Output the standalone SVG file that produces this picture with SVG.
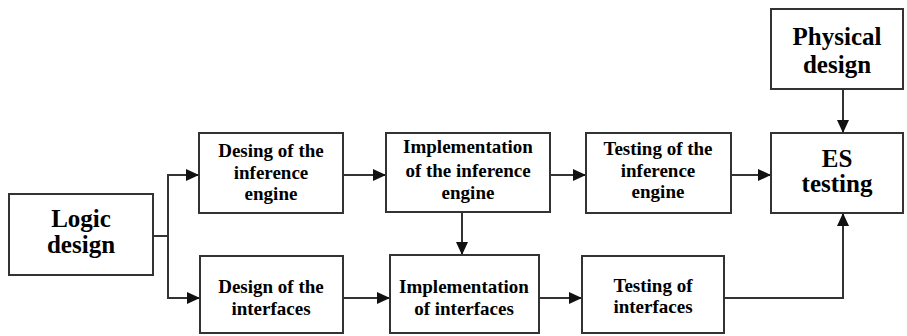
<svg xmlns="http://www.w3.org/2000/svg" width="907" height="336" viewBox="0 0 907 336">
<style>
.box{fill:#fff;stroke:#333;stroke-width:2}
.c{fill:none;stroke:#333;stroke-width:2}
</style>
<defs>
<marker id="arr" markerUnits="userSpaceOnUse" markerWidth="14" markerHeight="12" refX="13" refY="6" orient="auto">
<path d="M0,0 L13,6 L0,12 z" fill="#111"/>
</marker>
</defs>
<rect width="907" height="336" fill="#fff"/>
<g id="connectors">
<path class="c" d="M153,236 H168 V175 H199" marker-end="url(#arr)"/>
<path class="c" d="M168,236 V298 H200" marker-end="url(#arr)"/>
<path class="c" d="M343,175 H386" marker-end="url(#arr)"/>
<path class="c" d="M550,175 H586" marker-end="url(#arr)"/>
<path class="c" d="M731,175 H771" marker-end="url(#arr)"/>
<path class="c" d="M843,89 V133" marker-end="url(#arr)"/>
<path class="c" d="M462,212 V255" marker-end="url(#arr)"/>
<path class="c" d="M343,298 H390" marker-end="url(#arr)"/>
<path class="c" d="M539,298 H582" marker-end="url(#arr)"/>
<path class="c" d="M724,298 H843 V213" marker-end="url(#arr)"/>
</g>
<g id="logic">
<rect class="box" x="9" y="194" width="144" height="81"/>
<text font-family="Liberation Serif" font-weight="bold" font-size="25" text-anchor="middle" x="81" y="227">Logic</text>
<text font-family="Liberation Serif" font-weight="bold" font-size="25" text-anchor="middle" x="81" y="253">design</text>
</g>
<g id="design-engine">
<rect class="box" x="199" y="133" width="144" height="80"/>
<text font-family="Liberation Serif" font-weight="bold" font-size="19" text-anchor="middle" x="271" y="157">Desing of the</text>
<text font-family="Liberation Serif" font-weight="bold" font-size="19" text-anchor="middle" x="271" y="179">inference</text>
<text font-family="Liberation Serif" font-weight="bold" font-size="19" text-anchor="middle" x="271" y="200">engine</text>
</g>
<g id="impl-engine">
<rect class="box" x="386" y="133" width="164" height="79"/>
<text font-family="Liberation Serif" font-weight="bold" font-size="19" text-anchor="middle" x="468" y="153">Implementation</text>
<text font-family="Liberation Serif" font-weight="bold" font-size="19" text-anchor="middle" x="468" y="177">of the inference</text>
<text font-family="Liberation Serif" font-weight="bold" font-size="19" text-anchor="middle" x="468" y="199">engine</text>
</g>
<g id="test-engine">
<rect class="box" x="586" y="133" width="145" height="80"/>
<text font-family="Liberation Serif" font-weight="bold" font-size="19" text-anchor="middle" x="658" y="155">Testing of the</text>
<text font-family="Liberation Serif" font-weight="bold" font-size="19" text-anchor="middle" x="658" y="177">inference</text>
<text font-family="Liberation Serif" font-weight="bold" font-size="19" text-anchor="middle" x="658" y="198">engine</text>
</g>
<g id="physical">
<rect class="box" x="771" y="9" width="132" height="80"/>
<text font-family="Liberation Serif" font-weight="bold" font-size="25" text-anchor="middle" x="837" y="45">Physical</text>
<text font-family="Liberation Serif" font-weight="bold" font-size="25" text-anchor="middle" x="837" y="73">design</text>
</g>
<g id="es-testing">
<rect class="box" x="771" y="133" width="132" height="80"/>
<text font-family="Liberation Serif" font-weight="bold" font-size="25" text-anchor="middle" x="837" y="167">ES</text>
<text font-family="Liberation Serif" font-weight="bold" font-size="25" text-anchor="middle" x="837" y="192">testing</text>
</g>
<g id="design-interfaces">
<rect class="box" x="200" y="256" width="143" height="77"/>
<text font-family="Liberation Serif" font-weight="bold" font-size="19" text-anchor="middle" x="271" y="293">Design of the</text>
<text font-family="Liberation Serif" font-weight="bold" font-size="19" text-anchor="middle" x="271" y="315">interfaces</text>
</g>
<g id="impl-interfaces">
<rect class="box" x="390" y="255" width="149" height="78"/>
<text font-family="Liberation Serif" font-weight="bold" font-size="19" text-anchor="middle" x="464" y="293">Implementation</text>
<text font-family="Liberation Serif" font-weight="bold" font-size="19" text-anchor="middle" x="464" y="315">of interfaces</text>
</g>
<g id="test-interfaces">
<rect class="box" x="582" y="256" width="142" height="77"/>
<text font-family="Liberation Serif" font-weight="bold" font-size="19" text-anchor="middle" x="653" y="292">Testing of</text>
<text font-family="Liberation Serif" font-weight="bold" font-size="19" text-anchor="middle" x="653" y="313">interfaces</text>
</g>
</svg>
